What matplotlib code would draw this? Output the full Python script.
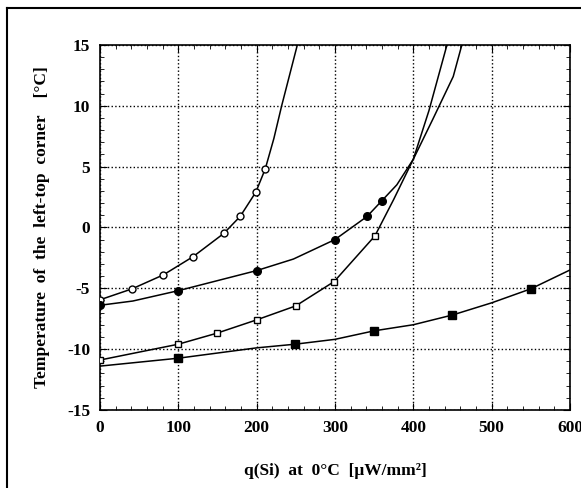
import matplotlib.pyplot as plt
from matplotlib.ticker import MultipleLocator
from matplotlib.lines import Line2D

plt.rcParams['font.family'] = ['Liberation Serif', 'DejaVu Serif']
plt.rcParams['font.weight'] = 'bold'
plt.rcParams['axes.unicode_minus'] = False

# open circles
oc_x = [0, 41, 81, 119, 158, 179, 199, 211]
oc_y = [-5.95, -5.05, -3.9, -2.4, -0.5, 0.9, 2.9, 4.8]
oc_line_x = [0, 41, 81, 119, 158, 179, 199, 211, 222, 232, 242, 252]
oc_line_y = [-5.95, -5.05, -3.9, -2.4, -0.5, 0.9, 2.9, 4.8, 7.3, 10, 12.5, 15]

# filled circles
fc_x = [0, 100, 200, 300, 341, 360]
fc_y = [-6.4, -5.2, -3.55, -1.0, 0.9, 2.2]
fc_line_x = [0, 42, 100, 200, 247, 300, 341, 360, 379, 400, 425, 451, 462]
fc_line_y = [-6.4, -6.05, -5.2, -3.55, -2.6, -1.0, 0.9, 2.2, 3.5, 5.6, 8.9, 12.4, 15]

# open squares
os_x = [0, 100, 149, 200, 250, 299, 351]
os_y = [-10.9, -9.6, -8.7, -7.6, -6.45, -4.45, -0.7]
os_line_x = [0, 100, 149, 200, 250, 299, 351, 375, 400, 420, 443]
os_line_y = [-10.9, -9.6, -8.7, -7.6, -6.45, -4.45, -0.7, 2.3, 5.6, 9.6, 15]

# filled squares
fs_x = [100, 249, 350, 450, 550]
fs_y = [-10.75, -9.6, -8.5, -7.2, -5.05]
fs_line_x = [0, 100, 200, 249, 300, 350, 400, 450, 500, 550, 600]
fs_line_y = [-11.4, -10.75, -9.9, -9.6, -9.2, -8.5, -8.0, -7.2, -6.2, -5.05, -3.5]

fig = plt.figure(figsize=(5.81, 4.88), dpi=100)
ax = fig.add_axes([0.172, 0.160, 0.809, 0.748])

# curves
for lx, ly in [(oc_line_x, oc_line_y), (fc_line_x, fc_line_y),
               (os_line_x, os_line_y), (fs_line_x, fs_line_y)]:
    ax.plot(lx, ly, color='black', lw=1.1, zorder=3)

# markers
ax.plot(oc_x, oc_y, 'o', ms=5, mfc='white', mec='black', mew=1.0, zorder=4)
ax.plot(fc_x, fc_y, 'o', ms=5.5, mfc='black', mec='black', zorder=4)
ax.plot(os_x, os_y, 's', ms=5, mfc='white', mec='black', mew=1.0, zorder=4)
ax.plot(fs_x, fs_y, 's', ms=5.5, mfc='black', mec='black', zorder=4)

ax.set_xlim(0, 600)
ax.set_ylim(-15, 15)
ax.xaxis.set_major_locator(MultipleLocator(100))
ax.xaxis.set_minor_locator(MultipleLocator(20))
ax.yaxis.set_major_locator(MultipleLocator(5))
ax.yaxis.set_minor_locator(MultipleLocator(1))
ax.tick_params(which='both', direction='in', top=True, right=True)
ax.tick_params(which='major', length=5, labelsize=12.5, pad=7)
ax.tick_params(which='minor', length=3)
ax.grid(True, which='major', linestyle=':', color='black', lw=1.0)
for s in ax.spines.values():
    s.set_linewidth(1.2)

ax.set_xlabel('q(Si)  at  0°C  [μW/mm²]', fontsize=12.5, fontweight='bold', labelpad=20)
ax.set_ylabel('Temperature  of  the  left-top  corner    [°C]', fontsize=12.5,
              fontweight='bold', labelpad=12)

# outer frame of the scanned figure
fig.add_artist(Line2D([7 / 581, 7 / 581], [0, 1 - 8 / 488], color='black', lw=1.5))
fig.add_artist(Line2D([7 / 581, 1], [1 - 8 / 488, 1 - 8 / 488], color='black', lw=1.5))

fig.savefig('out.png', dpi=100)
